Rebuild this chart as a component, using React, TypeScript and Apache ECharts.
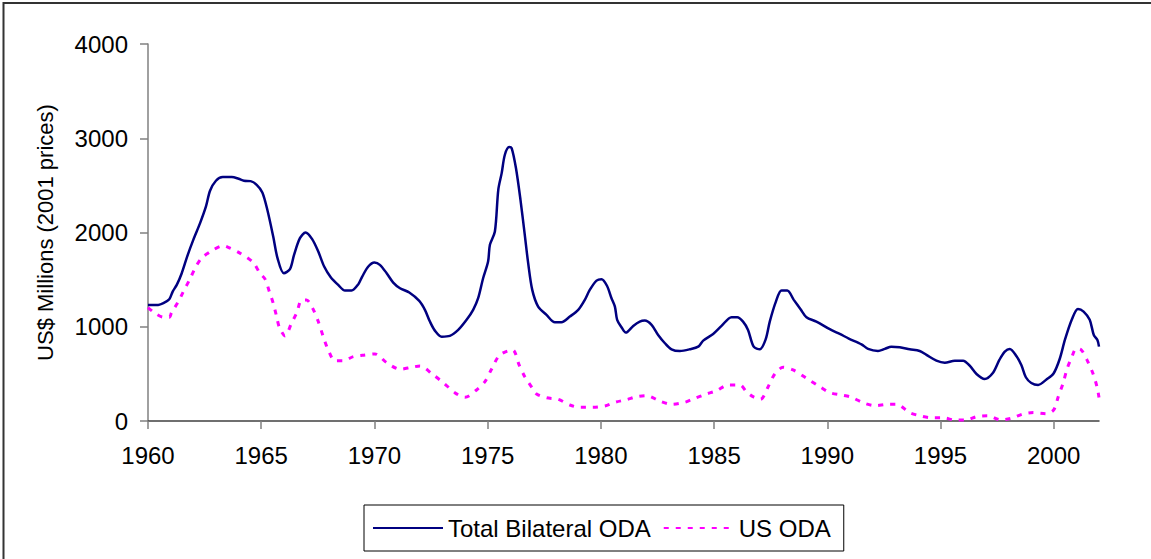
import React, { useEffect, useRef } from "react";
import * as echarts from "echarts";

const seriesNames = ["Total Bilateral ODA", "US ODA"];
const xTickValues = [1960, 1965, 1970, 1975, 1980, 1985, 1990, 1995, 2000];
const yTickLabels = ["0", "1000", "2000", "3000", "4000"];

const totalYears = [
  1960.0, 1960.45, 1960.68, 1960.94, 1961.09, 1961.27, 1961.49, 1961.74, 1962.0, 1962.3,
  1962.56, 1962.74, 1963.0, 1963.3, 1963.7, 1964.0, 1964.24, 1964.53, 1964.8, 1965.05,
  1965.27, 1965.53, 1965.72, 1966.0, 1966.27, 1966.45, 1966.71, 1966.96, 1967.25, 1967.52,
  1967.78, 1968.07, 1968.4, 1968.7, 1968.99, 1969.29, 1969.46, 1969.73, 1970.0, 1970.24,
  1970.54, 1970.83, 1971.13, 1971.54, 1971.98, 1972.23, 1972.45, 1972.67, 1972.97, 1973.33,
  1973.7, 1974.07, 1974.36, 1974.58, 1974.8, 1975.02, 1975.1, 1975.32, 1975.47, 1975.62,
  1975.76, 1975.95, 1976.06, 1976.25, 1976.45, 1976.64, 1976.79, 1976.97, 1977.23, 1977.6,
  1977.97, 1978.26, 1978.63, 1979.0, 1979.29, 1979.51, 1979.81, 1980.03, 1980.27, 1980.47,
  1980.62, 1980.72, 1980.91, 1981.1, 1981.43, 1981.72, 1981.94, 1982.24, 1982.53, 1982.83,
  1983.12, 1983.49, 1983.93, 1984.3, 1984.52, 1984.96, 1985.33, 1985.77, 1986.02, 1986.28,
  1986.5, 1986.75, 1987.02, 1987.28, 1987.46, 1987.73, 1987.98, 1988.23, 1988.52, 1988.82,
  1989.08, 1989.52, 1990.11, 1990.55, 1990.95, 1991.51, 1991.8, 1992.24, 1992.54, 1992.83,
  1993.2, 1993.64, 1994.08, 1994.38, 1994.82, 1995.19, 1995.63, 1996.0, 1996.29, 1996.59,
  1996.95, 1997.32, 1997.6, 1997.84, 1998.06, 1998.35, 1998.57, 1998.77, 1999.01, 1999.31,
  1999.68, 2000.0, 2000.26, 2000.5, 2000.8, 2001.07, 2001.32, 2001.59, 2001.77, 2001.93,
  2002.0,
];
const totalValues = [
  1232, 1232, 1250, 1292, 1373, 1444, 1568, 1752, 1922, 2099,
  2276, 2443, 2549, 2588, 2588, 2570, 2549, 2545, 2506, 2425,
  2241, 1957, 1728, 1568, 1611, 1763, 1940, 2000, 1930, 1798,
  1639, 1526, 1444, 1384, 1384, 1452, 1532, 1639, 1681, 1657,
  1568, 1469, 1409, 1363, 1274, 1179, 1055, 959, 895, 903,
  966, 1073, 1179, 1303, 1515, 1692, 1869, 2010, 2453, 2630,
  2825, 2907, 2896, 2684, 2347, 1975, 1675, 1391, 1214, 1126,
  1048, 1048, 1108, 1179, 1285, 1391, 1490, 1505, 1435, 1303,
  1214, 1073, 995, 938, 1009, 1055, 1065, 1020, 913, 825,
  761, 743, 761, 789, 853, 924, 1009, 1101, 1101, 1055,
  966, 789, 761, 868, 1055, 1267, 1384, 1384, 1285, 1186,
  1101, 1055, 974, 924, 875, 814, 765, 743, 765, 789,
  782, 761, 743, 701, 640, 619, 640, 640, 587, 499,
  446, 513, 648, 736, 765, 690, 595, 464, 403, 382,
  440, 507, 655, 865, 1076, 1189, 1161, 1073, 913, 860,
  789,
];

const usYears = [
  1960.0, 1960.31, 1960.68, 1960.94, 1961.04, 1961.34, 1961.56, 1961.85, 1962.08, 1962.37,
  1962.88, 1963.33, 1963.62, 1964.06, 1964.65, 1964.94, 1965.17, 1965.36, 1965.53, 1965.68,
  1965.8, 1966.05, 1966.34, 1966.57, 1966.79, 1967.0, 1967.27, 1967.52, 1967.74, 1967.96,
  1968.26, 1968.62, 1969.07, 1969.58, 1970.02, 1970.54, 1971.13, 1971.64, 1972.01, 1972.6,
  1973.04, 1973.55, 1974.0, 1974.51, 1974.88, 1975.17, 1975.54, 1976.1, 1976.39, 1976.64,
  1976.98, 1977.16, 1977.6, 1978.11, 1978.63, 1979.07, 1979.59, 1980.18, 1980.65, 1981.13,
  1981.58, 1982.02, 1982.6, 1983.12, 1983.71, 1984.08, 1984.67, 1985.11, 1985.62, 1986.14,
  1986.43, 1986.72, 1987.05, 1987.39, 1987.68, 1988.05, 1988.49, 1989.08, 1989.67, 1990.11,
  1990.63, 1991.07, 1991.58, 1992.1, 1992.68, 1993.06, 1993.64, 1994.08, 1994.6, 1995.11,
  1995.63, 1996.14, 1996.59, 1997.1, 1997.65, 1998.13, 1998.65, 1999.1, 1999.68, 2000.0,
  2000.2, 2000.4, 2000.6, 2000.78, 2001.0, 2001.22, 2001.47, 2001.73, 2001.91, 2002.0,
];
const usValues = [
  1203, 1144, 1101, 1101, 1150, 1267, 1373, 1505, 1622, 1728,
  1816, 1859, 1834, 1781, 1681, 1568, 1505, 1373, 1250, 1108,
  995, 903, 1038, 1150, 1285, 1285, 1197, 1055, 895, 754,
  640, 640, 683, 701, 712, 619, 549, 570, 584, 489,
  407, 301, 252, 329, 418, 549, 701, 754, 595, 470,
  347, 287, 247, 230, 170, 145, 145, 159, 200, 226,
  258, 269, 212, 177, 199, 234, 287, 322, 382, 382,
  311, 258, 230, 364, 499, 570, 542, 453, 364, 301,
  276, 252, 194, 163, 177, 177, 88, 56, 35, 35,
  11, 11, 46, 56, 12, 30, 75, 90, 78, 117,
  258, 390, 560, 666, 770, 754, 648, 507, 364, 250,
];

const FONT = "'Liberation Sans', Arial, Helvetica, sans-serif";

export default function App() {
  const ref = useRef<HTMLDivElement>(null);

  useEffect(() => {
    if (!ref.current) return;
    const chart = echarts.init(ref.current, undefined, { renderer: "svg" });
    const totalData = totalYears.map((y, i) => [y, totalValues[i]]);
    const usData = usYears.map((y, i) => [y, usValues[i]]);

    chart.setOption({
      animation: false,
      backgroundColor: "#ffffff",
      textStyle: { fontFamily: FONT },
      graphic: [
        {
          type: "rect",
          shape: { x: 3.5, y: 3, width: 1200, height: 600 },
          style: { fill: "none", stroke: "#333333", lineWidth: 2 },
          silent: true,
        },
      ],
      grid: { left: 148, right: 52, top: 44, bottom: 138, containLabel: false },
      legend: {
        data: seriesNames,
        left: 364,
        top: 505,
        orient: "horizontal",
        itemWidth: 70,
        itemHeight: 14,
        itemGap: 12,
        borderColor: "#000000",
        borderWidth: 1,
        padding: [11, 13, 11, 8],
        itemStyle: { opacity: 0 },
        textStyle: { fontSize: 24, color: "#000000", fontFamily: FONT },
      },
      xAxis: {
        type: "value",
        min: 1960,
        max: 2002,
        interval: 5,
        axisLine: { show: true, lineStyle: { color: "#404040", width: 1.5 } },
        axisTick: {
          show: true,
          customValues: xTickValues,
          length: 8,
          lineStyle: { color: "#808080", width: 1.5 },
        },
        axisLabel: {
          customValues: xTickValues,
          fontSize: 24,
          color: "#000000",
          margin: 22,
          fontFamily: FONT,
          formatter: (v: number) => String(Math.round(v)),
        },
        splitLine: { show: false },
      },
      yAxis: {
        type: "value",
        min: 0,
        max: 4000,
        interval: 1000,
        name: "US$ Millions (2001 prices)",
        nameLocation: "middle",
        nameGap: 92,
        nameTextStyle: { fontSize: 22, color: "#000000", fontFamily: FONT },
        axisLine: { show: true, lineStyle: { color: "#808080", width: 1.5 } },
        axisTick: { show: true, length: 8, lineStyle: { color: "#808080", width: 1.5 } },
        axisLabel: {
          fontSize: 24,
          color: "#000000",
          margin: 20,
          fontFamily: FONT,
          formatter: (v: number) => yTickLabels[Math.round(v / 1000)] ?? String(v),
        },
        splitLine: { show: false },
      },
      series: [
        {
          name: seriesNames[0],
          type: "line",
          data: totalData,
          smooth: 0.3,
          symbol: "none",
          showSymbol: false,
          lineStyle: { color: "#000080", width: 2.5 },
          itemStyle: { color: "#000080" },
        },
        {
          name: seriesNames[1],
          type: "line",
          data: usData,
          smooth: 0.3,
          symbol: "none",
          showSymbol: false,
          lineStyle: { color: "#ff00ff", width: 3, type: [5, 7] },
          itemStyle: { color: "#ff00ff" },
        },
      ],
    });

    return () => chart.dispose();
  }, []);

  return (
    <div
      ref={ref}
      style={{ position: "fixed", left: 0, top: 0, width: 1151, height: 559, background: "#fff" }}
    />
  );
}
